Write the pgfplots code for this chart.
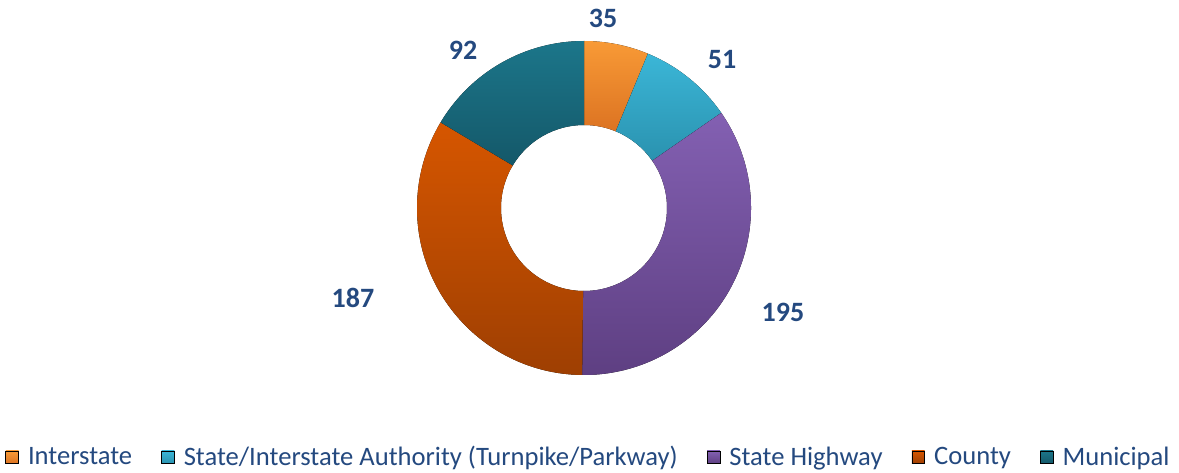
\documentclass[border=0pt]{standalone}
\usepackage{pgfplots}
\pgfplotsset{compat=1.18}
\usepackage{fontspec}
\setmainfont{Carlito}
\definecolor{cItop}{HTML}{F89A36}
\definecolor{cIbot}{HTML}{DC7322}
\definecolor{cStop}{HTML}{3BB6D7}
\definecolor{cSbot}{HTML}{2A92AF}
\definecolor{cHtop}{HTML}{8360B2}
\definecolor{cHbot}{HTML}{5E3F82}
\definecolor{cCtop}{HTML}{D65600}
\definecolor{cCbot}{HTML}{9E3F02}
\definecolor{cMtop}{HTML}{1C768A}
\definecolor{cMbot}{HTML}{145869}
\definecolor{cT}{HTML}{24497F}
\begin{document}
\begin{tikzpicture}
\begin{axis}[
  x=0.5pt, y=0.5pt,
  xmin=0, xmax=1179, ymin=0, ymax=472,
  hide axis, clip=false,
  legend columns=5,
  legend cell align=left,
  legend style={draw=none, fill=none, at={(0.5,0.031)}, anchor=center,
    font=\fontsize{13.3}{16}\selectfont, text=cT,
    /tikz/every even column/.append style={column sep=12.5pt},
    /tikz/every odd column/.append style={column sep=2.5pt},
    inner sep=0pt},
]
\foreach \v/\c [remember=\e as \s (initially 0), evaluate=\v as \e using \s+\v] in
  {35/cI, 51/cS, 195/cH, 187/cC, 92/cM} {
  \pgfmathsetmacro\a{90-\s/560*360}
  \pgfmathsetmacro\b{90-\e/560*360}
  \pgfmathsetmacro\xa{584+167*cos(\a)}
  \pgfmathsetmacro\ya{264+167*sin(\a)}
  \pgfmathsetmacro\xb{584+83*cos(\b)}
  \pgfmathsetmacro\yb{264+83*sin(\b)}
  \edef\tmp{\noexpand\fill[top color=\c top, bottom color=\c bot]
    (axis cs:\xa,\ya) arc[start angle=\a, end angle=\b, radius=83.5pt]
    -- (axis cs:\xb,\yb) arc[start angle=\b, end angle=\a, radius=41.5pt] -- cycle;}
  \tmp
}
\foreach \v/\lx/\ly in {35/603/454, 51/722/412, 195/783/160, 187/353/174, 92/463/422} {
  \edef\tmp{\noexpand\node[font=\noexpand\fontsize{14}{16}\noexpand\selectfont\noexpand\bfseries, text=cT] at (axis cs:\lx,\ly) {\v};}
  \tmp
}
\addlegendimage{legend image code/.code={\shade[top color=cItop,bottom color=cIbot] (0pt,-3.2pt) rectangle (6.4pt,3.2pt);}}
\addlegendimage{legend image code/.code={\shade[top color=cStop,bottom color=cSbot] (0pt,-3.2pt) rectangle (6.4pt,3.2pt);}}
\addlegendimage{legend image code/.code={\shade[top color=cHtop,bottom color=cHbot] (0pt,-3.2pt) rectangle (6.4pt,3.2pt);}}
\addlegendimage{legend image code/.code={\shade[top color=cCtop,bottom color=cCbot] (0pt,-3.2pt) rectangle (6.4pt,3.2pt);}}
\addlegendimage{legend image code/.code={\shade[top color=cMtop,bottom color=cMbot] (0pt,-3.2pt) rectangle (6.4pt,3.2pt);}}
\legend{Interstate, State/Interstate Authority (Turnpike/Parkway), State Highway, County, Municipal}
\end{axis}
\pgfresetboundingbox
\path (current axis.south west) rectangle (current axis.north east);
\end{tikzpicture}
\end{document}
